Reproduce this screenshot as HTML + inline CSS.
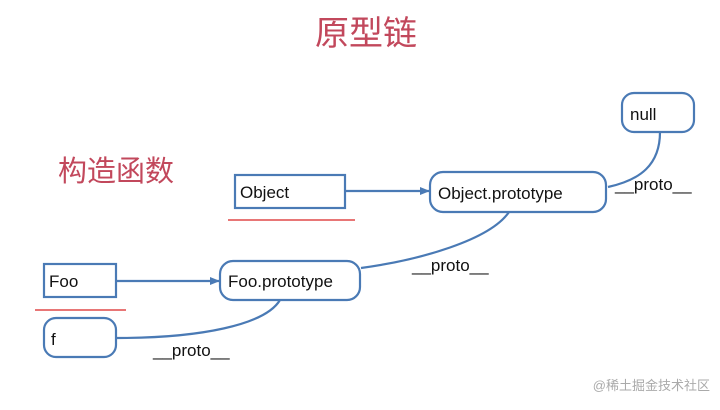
<!DOCTYPE html>
<html><head><meta charset="utf-8"><style>
body{margin:0;width:720px;height:410px;background:#fff;overflow:hidden;font-family:"Liberation Sans","Noto Sans CJK SC",sans-serif}
</style></head><body>
<svg width="720" height="410" xmlns="http://www.w3.org/2000/svg" style="position:absolute;left:0;top:0">
<defs><marker id="a" markerWidth="10" markerHeight="10" refX="9" refY="5" orient="auto" markerUnits="userSpaceOnUse"><path d="M0,1 L10,5 L0,9 Z" fill="#4a7ab5"/></marker></defs>
<g font-family="Liberation Sans, Noto Sans CJK SC, sans-serif">
<text x="366" y="45" font-size="34" fill="#c2485c" text-anchor="middle" font-family="Noto Sans CJK SC, sans-serif">原型链</text>
<text x="58" y="181" font-size="29" fill="#c2485c" font-family="Noto Sans CJK SC, sans-serif">构造函数</text>
<g fill="#fff" stroke="#4a7ab5" stroke-width="2.2">
<rect x="235" y="175" width="110" height="33"/>
<rect x="44" y="264" width="72" height="33"/>
<rect x="44" y="318" width="72" height="39" rx="12"/>
<rect x="220" y="261" width="140" height="39" rx="13"/>
<rect x="430" y="172" width="176" height="40" rx="13"/>
<rect x="622" y="93" width="72" height="39" rx="12"/>
</g>
<g fill="none" stroke="#4a7ab5" stroke-width="2.2">
<line x1="345" y1="191" x2="429" y2="191" marker-end="url(#a)"/>
<line x1="116" y1="281" x2="219" y2="281" marker-end="url(#a)"/>
<path d="M117,338 C200,338 265,325 280,300"/>
<path d="M361,268 C420,260 490,240 509,212"/>
<path d="M608,187 C640,180 660,165 660,132"/>
</g>
<line x1="228" y1="220" x2="355" y2="220" stroke="#e04848" stroke-width="1.5"/>
<line x1="35" y1="310" x2="126" y2="310" stroke="#e04848" stroke-width="1.5"/>
<g font-size="17" fill="#111">
<text x="240" y="198">Object</text>
<text x="49" y="287">Foo</text>
<text x="51" y="345">f</text>
<text x="228" y="287">Foo.prototype</text>
<text x="438" y="199">Object.prototype</text>
<text x="630" y="120">null</text>
<text x="153" y="356">__proto__</text>
<text x="412" y="271">__proto__</text>
<text x="615" y="190">__proto__</text>
</g>
<text x="710" y="390" font-size="13" fill="#aaa" text-anchor="end">@稀土掘金技术社区</text>
</g>
</svg>
</body></html>
